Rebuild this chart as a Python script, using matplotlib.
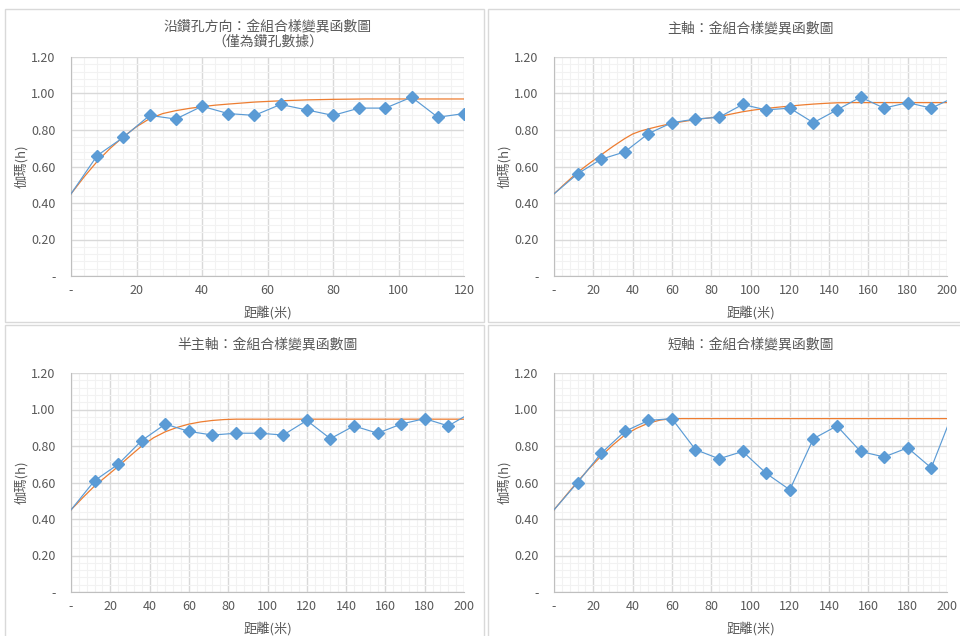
import numpy as np
import matplotlib
matplotlib.use('Agg')
import matplotlib.pyplot as plt
from matplotlib.patches import Rectangle
from matplotlib.ticker import FuncFormatter, MultipleLocator

plt.rcParams['font.family'] = ['Noto Sans CJK TC', 'DejaVu Sans']

# --- data ---
titles = ['沿鑽孔方向：金組合樣變異函數圖\n（僅為鑽孔數據）',
          '主軸：金組合樣變異函數圖',
          '半主軸：金組合樣變異函數圖',
          '短軸：金組合樣變異函數圖']
x_max = [120, 200, 200, 200]

# experimental variogram points
exp_x1 = [0, 8, 16, 24, 32, 40, 48, 56, 64, 72, 80, 88, 96, 104, 112, 120]
exp_y1 = [0.45, 0.66, 0.76, 0.88, 0.86, 0.93, 0.89, 0.88, 0.94, 0.91, 0.88, 0.92, 0.92, 0.98, 0.87, 0.89]

exp_x2 = [0, 12, 24, 36, 48, 60, 72, 84, 96, 108, 120, 132, 144, 156, 168, 180, 192, 204]
exp_y2 = [0.45, 0.56, 0.64, 0.68, 0.78, 0.84, 0.86, 0.87, 0.94, 0.91, 0.92, 0.84, 0.91, 0.98, 0.92, 0.95, 0.92, 0.98]

exp_x3 = [0, 12, 24, 36, 48, 60, 72, 84, 96, 108, 120, 132, 144, 156, 168, 180, 192, 204]
exp_y3 = [0.45, 0.61, 0.70, 0.83, 0.92, 0.88, 0.86, 0.87, 0.87, 0.86, 0.94, 0.84, 0.91, 0.87, 0.92, 0.95, 0.91, 0.985]

exp_x4 = [0, 12, 24, 36, 48, 60, 72, 84, 96, 108, 120, 132, 144, 156, 168, 180, 192, 204]
exp_y4 = [0.45, 0.60, 0.76, 0.88, 0.94, 0.95, 0.78, 0.73, 0.77, 0.65, 0.56, 0.84, 0.91, 0.77, 0.74, 0.79, 0.68, 1.01]

# fitted model curves
mod_x1 = [0, 4, 8, 12, 16, 20, 24, 28, 32, 36, 40, 44, 48, 56, 64, 72, 80, 90, 100, 120]
mod_y1 = [0.45, 0.543, 0.628, 0.700, 0.763, 0.818, 0.862, 0.89, 0.906, 0.918, 0.928, 0.936, 0.942, 0.953, 0.96, 0.965, 0.968, 0.97, 0.97, 0.97]

mod_x2 = [0, 6, 12, 18, 24, 30, 36, 40, 44, 48, 54, 60, 66, 72, 78, 84, 90, 96, 102, 108,
          114, 120, 126, 132, 138, 144, 150, 156, 200]
mod_y2 = [0.45, 0.51, 0.568, 0.617, 0.664, 0.71, 0.753, 0.778, 0.794, 0.806, 0.822, 0.836, 0.847,
          0.857, 0.865, 0.873, 0.887, 0.90, 0.91, 0.918, 0.925, 0.931, 0.937, 0.942, 0.946,
          0.949, 0.95, 0.95, 0.95]

mod_x3 = [0, 6, 12, 18, 24, 30, 36, 42, 48, 54, 60, 66, 72, 78, 84, 200]
mod_y3 = [0.45, 0.517, 0.581, 0.634, 0.688, 0.745, 0.80, 0.845, 0.878, 0.902, 0.92, 0.932, 0.94, 0.945, 0.947, 0.947]

mod_x4 = [0, 6, 12, 18, 24, 30, 36, 42, 48, 54, 60, 200]
mod_y4 = [0.45, 0.528, 0.605, 0.678, 0.745, 0.806, 0.86, 0.897, 0.925, 0.942, 0.95, 0.95]

exp_x = [exp_x1, exp_x2, exp_x3, exp_x4]
exp_y = [exp_y1, exp_y2, exp_y3, exp_y4]
mod_x = [mod_x1, mod_x2, mod_x3, mod_x4]
mod_y = [mod_y1, mod_y2, mod_y3, mod_y4]

W, H = 960, 636
fig = plt.figure(figsize=(W / 100, H / 100), dpi=100)

# chart boxes (left, top, right, bottom) in pixels
boxes = [(5, 9, 484, 322), (488, 9, 968, 322), (5, 325, 484, 645), (488, 325, 968, 645)]
# plot areas
areas = [(71, 57, 464, 276), (554, 57, 947, 276), (71, 373, 464, 592), (554, 373, 947, 592)]

text_col = '#595959'
blue = '#5B9BD5'
orange = '#ED7D31'

for bl, bt, br, bb in boxes:
    fig.patches.append(Rectangle((bl / W, 1 - bb / H), (br - bl) / W, (bb - bt) / H,
                                 transform=fig.transFigure, fill=False,
                                 edgecolor='#D9D9D9', lw=1))

for i in range(4):
    l, t, r, b = areas[i]
    ax = fig.add_axes([l / W, 1 - b / H, (r - l) / W, (b - t) / H])
    ax.plot(mod_x[i], mod_y[i], color=orange, lw=0.9, zorder=3)
    ax.plot(exp_x[i], exp_y[i], color=blue, lw=0.85, zorder=4)
    ax.plot(exp_x[i][1:], exp_y[i][1:], ls='none', marker='D', ms=6.6,
            color=blue, zorder=5)

    ax.set_xlim(0, x_max[i])
    ax.set_ylim(0, 1.2)
    ax.xaxis.set_major_locator(MultipleLocator(20))
    ax.xaxis.set_minor_locator(MultipleLocator(4))
    ax.yaxis.set_major_locator(MultipleLocator(0.2))
    ax.yaxis.set_minor_locator(MultipleLocator(0.04))
    ax.xaxis.set_major_formatter(FuncFormatter(lambda v, p: '-' if abs(v) < 1e-9 else '%d' % v))
    ax.yaxis.set_major_formatter(FuncFormatter(lambda v, p: '-' if abs(v) < 1e-9 else '%.2f' % v))
    ax.grid(True, which='major', color='#D9D9D9', lw=1.0)
    ax.grid(True, which='minor', color='#F2F2F2', lw=0.8)
    ax.set_axisbelow(True)
    for s in ['top', 'right']:
        ax.spines[s].set_visible(False)
    for s in ['left', 'bottom']:
        ax.spines[s].set_color('#BFBFBF')
    ax.tick_params(which='both', length=0, colors=text_col, labelsize=9)
    ax.tick_params(axis='y', pad=11)
    ax.tick_params(axis='x', pad=6)

    ax.set_xlabel('距離(米)', color=text_col, fontsize=9.5, labelpad=6)
    ax.set_ylabel('伽瑪(h)', color=text_col, fontsize=9.5, labelpad=2)
    ax.set_title(titles[i], color=text_col, fontsize=10, linespacing=1.1,
                 pad=8 if i == 0 else 18)

fig.savefig('out.png', dpi=100, facecolor='white')
